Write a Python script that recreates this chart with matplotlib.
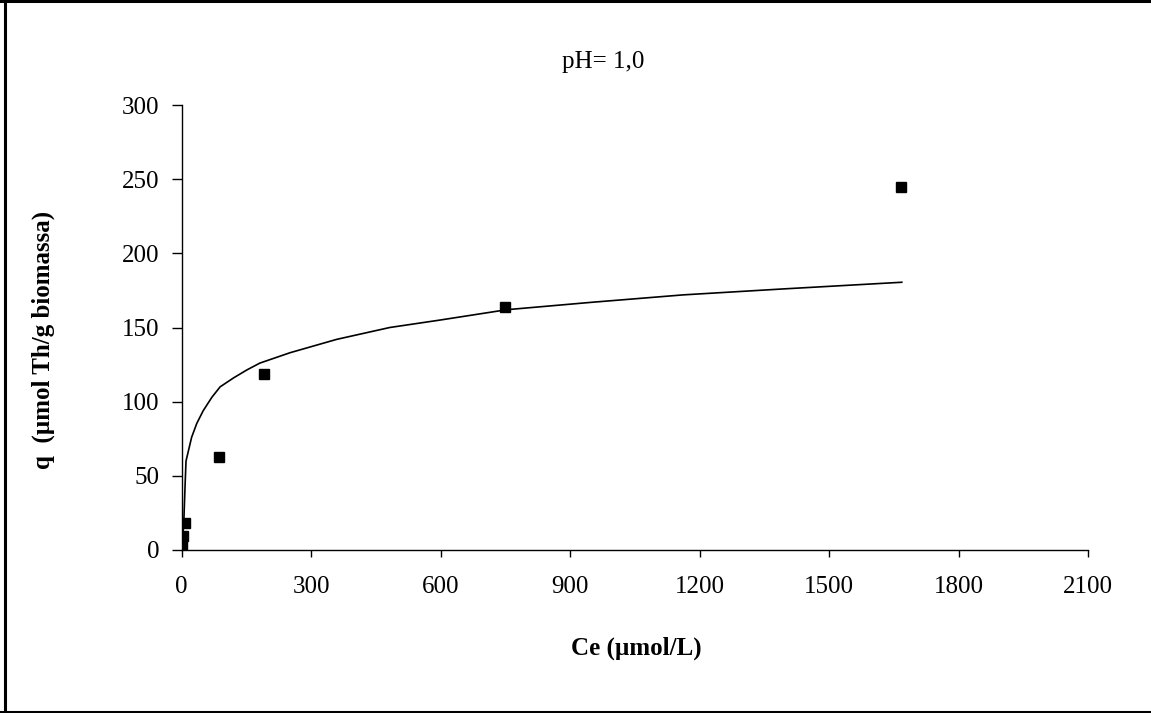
import matplotlib
matplotlib.use("Agg")
import matplotlib.pyplot as plt
from matplotlib.lines import Line2D

# Experimental data (Ce in µmol/L, q in µmol Th/g biomassa)
ce_points = [0.5, 2, 7, 87, 191, 750, 1665]
q_points = [3.4, 9.4, 18, 62.7, 118.9, 163.7, 245]

# Fitted isotherm curve
ce_curve = [1, 3, 5, 8, 10, 23, 35, 50, 70, 89, 120, 151, 181, 251, 359, 482,
            598, 753, 950, 1162, 1393, 1668]
q_curve = [2, 10, 20, 45, 60, 76, 85.4, 94, 103, 110, 116, 121.4, 126, 133,
           142, 150, 155, 162, 167, 172, 176, 180.5]

x_ticks = [0, 300, 600, 900, 1200, 1500, 1800, 2100]
y_ticks = [0, 50, 100, 150, 200, 250, 300]

plt.rcParams['font.family'] = ['Liberation Serif', 'DejaVu Serif']

W, H = 1151, 713
fig = plt.figure(figsize=(W / 100, H / 100), dpi=100)
ax = fig.add_axes([181.7 / W, 1 - 550 / H, (1088.3 - 181.7) / W, (550 - 105) / H])

ax.plot(ce_curve, q_curve, color='black', linewidth=1.2)
ax.plot(ce_points, q_points, linestyle='none', marker='s', markersize=7,
        color='black')

ax.set_xlim(0, 2100)
ax.set_ylim(0, 300)
ax.set_xticks(x_ticks)
ax.set_yticks(y_ticks)
ax.tick_params(direction='out', width=1, labelsize=18)
ax.tick_params(axis='y', length=7, pad=9)
ax.tick_params(axis='x', length=5, pad=14)
for s in ['top', 'right']:
    ax.spines[s].set_visible(False)
for s in ['left', 'bottom']:
    ax.spines[s].set_linewidth(1)

fig.text(603 / W, 1 - 62 / H, 'pH= 1,0', ha='center', va='center', fontsize=18)
fig.text(636 / W, 1 - 648 / H, 'Ce (µmol/L)', ha='center', va='center',
         fontsize=18, fontweight='bold')
fig.text(43 / W, 1 - 340 / H, 'q  (µmol Th/g biomassa)', ha='center',
         va='center', rotation=90, fontsize=18, fontweight='bold')

# Figure border
lw = 2.2
fig.add_artist(Line2D([5 / W, 5 / W], [0, 1], transform=fig.transFigure,
                      color='black', linewidth=lw))
fig.add_artist(Line2D([0, 1], [1 - 1 / H, 1 - 1 / H], transform=fig.transFigure,
                      color='black', linewidth=lw))
fig.add_artist(Line2D([0, 1], [1 / H, 1 / H], transform=fig.transFigure,
                      color='black', linewidth=lw))

fig.savefig('out.png', dpi=100, facecolor='white')
